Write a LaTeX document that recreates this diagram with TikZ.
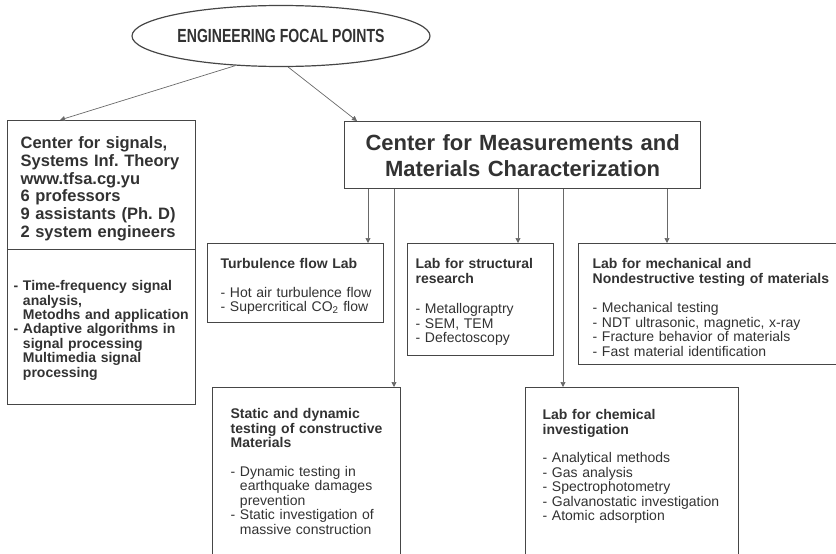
\documentclass[tikz,border=0pt]{standalone}
\usepackage{fontspec}
\setmainfont{Liberation Sans}
\newfontfamily\titlefont[FakeStretch=0.74]{Liberation Sans}
\usetikzlibrary{positioning,arrows.meta,shapes.geometric}
\usepackage{xcolor}
\definecolor{EFPText}{RGB}{50,50,50}
\definecolor{EFPLine}{RGB}{70,70,70}
\definecolor{EFPArrow}{RGB}{105,105,105}

\begin{document}
\begin{tikzpicture}[
x=1pt,y=-1pt,
box/.style={
  rectangle,
  draw=EFPLine,
  line width=1.3pt,
  anchor=north west,
  inner ysep=0pt,
  align=left,
  execute at begin node={\rightskip=0pt minus 40pt},
  text=EFPText,
  font=\fontsize{14}{14.5}\selectfont
},
arrow/.style={-{Triangle[length=5pt,width=5pt]},line width=0.7pt,draw=EFPArrow}
]
\useasboundingbox (0,0) rectangle (836,554);
\clip (0,0) rectangle (836,554);

\node[ellipse,draw=EFPLine,line width=1.2pt,minimum width=298pt,minimum height=61pt,inner sep=0pt,
  text=EFPText,font=\titlefont\fontsize{19}{21}\selectfont\bfseries] (title) at (281,36) {ENGINEERING FOCAL POINTS};

% left centre
\node[box,text width=162pt,inner xsep=13pt,text height=28pt,text depth=101pt,
  font=\fontsize{16.5}{17.7}\selectfont\bfseries] (sig) at (7,120)
  {Center for signals,\\ Systems Inf.\ Theory\\ www.tfsa.cg.yu\\ 6 professors\\ 9 assistants (Ph.\ D)\\ 2 system engineers};
\node[box,text width=176pt,inner xsep=6pt,text height=41pt,text depth=114pt,
  font=\fontsize{14}{14.4}\selectfont\bfseries] (sigwork) at (7,249)
  {- Time-frequency signal\\ \hphantom{- }analysis,\\ \hphantom{- }Metodhs and application\\ - Adaptive algorithms in\\
   \hphantom{- }signal processing\\ \hphantom{- }Multimedia signal\\ \hphantom{- }processing};

% measurements centre and its labs
\node[box,align=center,execute at begin node={\leftskip=0pt plus 1fil\rightskip=0pt plus 1fil\parfillskip=0pt},
  text width=340pt,inner xsep=8pt,text height=29pt,text depth=38pt,
  font=\fontsize{22}{25.6}\selectfont\bfseries] (meas) at (344,121)
  {Center for Measurements and\\ Materials Characterization};
\node[box,text width=150pt,inner xsep=13pt,text height=25pt,text depth=54pt] (turb) at (207,243)
  {\textbf{Turbulence flow Lab}\\[14pt] - Hot air turbulence flow\\ - Supercritical CO\textsubscript{2} flow};
\node[box,text width=130pt,inner xsep=8pt,text height=25pt,text depth=87pt] (struct) at (407,243)
  {\textbf{Lab for structural}\\ \textbf{research}\\[16pt] - Metallograptry\\ - SEM, TEM\\ - Defectoscopy};
\node[box,text width=250pt,inner xsep=14pt,text height=25pt,text depth=96pt] (mech) at (578,243)
  {\textbf{Lab for mechanical and}\\ \textbf{Nondestructive testing of materials}\\[15pt] - Mechanical testing\\
   - NDT ultrasonic, magnetic, x-ray\\ - Fracture behavior of materials\\ - Fast material identification};
\node[box,text width=152pt,inner xsep=18pt,text height=31pt,text depth=142pt] (static) at (212,387)
  {\textbf{Static and dynamic}\\ \textbf{testing of constructive}\\ \textbf{Materials}\\[14pt] - Dynamic testing in\\
   \hphantom{- }earthquake damages\\ \hphantom{- }prevention\\ - Static investigation of\\ \hphantom{- }massive construction};
\node[box,text width=179pt,inner xsep=17pt,text height=32pt,text depth=141pt] (chem) at (525,387)
  {\textbf{Lab for chemical}\\ \textbf{investigation}\\[14pt] - Analytical methods\\ - Gas analysis\\ - Spectrophotometry\\
   - Galvanostatic investigation\\ - Atomic adsorption};

% connectors
\draw[arrow] (title.213) -- ([xshift=53pt]sig.north west);
\draw[arrow] (title.283) -- ([xshift=13pt]meas.north west);
\coordinate (m1) at ([xshift=24pt]meas.south west);
\coordinate (m2) at ([xshift=50pt]meas.south west);
\coordinate (m3) at ([xshift=174pt]meas.south west);
\coordinate (m4) at ([xshift=219pt]meas.south west);
\coordinate (m5) at ([xshift=323pt]meas.south west);
\draw[arrow] (m1) -- (m1 |- turb.north);
\draw[arrow] (m2) -- (m2 |- static.north);
\draw[arrow] (m3) -- (m3 |- struct.north);
\draw[arrow] (m4) -- (m4 |- chem.north);
\draw[arrow] (m5) -- (m5 |- mech.north);
\end{tikzpicture}
\end{document}
